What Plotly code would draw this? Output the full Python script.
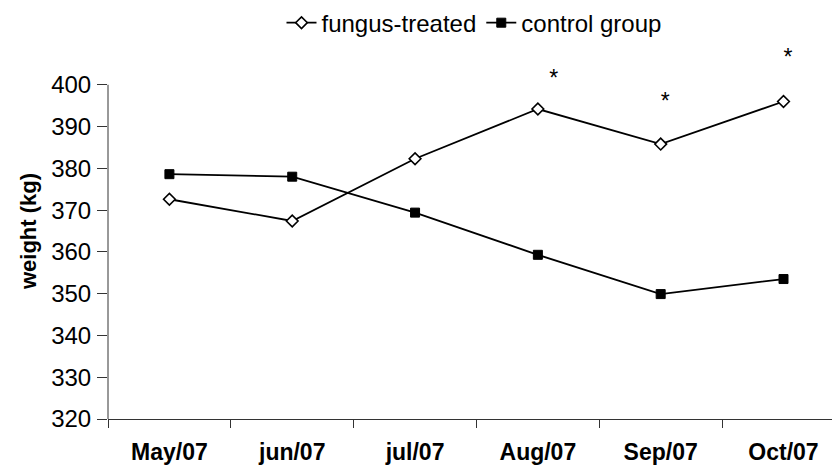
import plotly.graph_objects as go

months = ["May/07", "jun/07", "jul/07", "Aug/07", "Sep/07", "Oct/07"]
fungus = [372.6, 367.4, 382.3, 394.2, 385.8, 396.0]
control = [378.6, 378.0, 369.4, 359.3, 349.9, 353.5]
star_months = ["Aug/07", "Sep/07", "Oct/07"]
star_y = [401.0, 395.6, 406.0]
star_text = ["\u2002*", "*", "*"]
y_ticks = [320, 330, 340, 350, 360, 370, 380, 390, 400]
y_axis_span = [320, 400]

FONT = "Liberation Sans, Arial, sans-serif"

fig = go.Figure()
fig.add_trace(go.Scatter(
    x=months, y=fungus, name="fungus-treated", mode="lines+markers",
    line=dict(color="black", width=1.8),
    marker=dict(symbol="diamond", size=9, color="white", line=dict(color="black", width=1.6)),
    cliponaxis=False))
fig.add_trace(go.Scatter(
    x=months, y=control, name="control group", mode="lines+markers",
    line=dict(color="black", width=1.8),
    marker=dict(symbol="square", size=9, color="black", line=dict(color="black", width=1)),
    cliponaxis=False))
fig.add_trace(go.Scatter(
    x=star_months, y=star_y, text=star_text, mode="text", textposition="middle right",
    textfont=dict(size=23, color="black", family=FONT), showlegend=False,
    hoverinfo="skip", cliponaxis=False))

# y axis line only spanning the tick range
fig.add_shape(type="line", xref="paper", yref="y", x0=0, x1=0,
              y0=y_axis_span[0], y1=y_axis_span[1],
              line=dict(color="#333", width=1), layer="above")

fig.update_layout(
    width=832, height=464,
    margin=dict(l=99.5, r=0, t=35.1, b=52.7, autoexpand=False),
    paper_bgcolor="white", plot_bgcolor="white",
    font=dict(family=FONT, size=22, color="black"),
    showlegend=True,
    legend=dict(orientation="h", x=0.5, xanchor="center", y=1.053, yanchor="middle",
                font=dict(size=24), bgcolor="rgba(0,0,0,0)", tracegroupgap=0),
    xaxis=dict(type="category", range=[-0.5, 5.46], showline=True, linecolor="#333",
               linewidth=1, ticks="outside", tickson="boundaries", ticklen=8,
               tickcolor="#333", showgrid=False, zeroline=False, automargin=False,
               tickfont=dict(size=23, family=FONT),
               ticklabelstandoff=12,
               tickvals=months, ticktext=["<b>%s</b>" % m for m in months]),
    yaxis=dict(range=[320, 410], showline=False,
               ticks="outside", ticklen=10, tickcolor="#333", showgrid=False,
               zeroline=False, tickvals=y_ticks, ticklabelstandoff=1, automargin=False,
               tickfont=dict(size=24),
               title=dict(text="<b>weight (kg)</b>", font=dict(size=22), standoff=8)),
)

fig.write_html("out.html")
